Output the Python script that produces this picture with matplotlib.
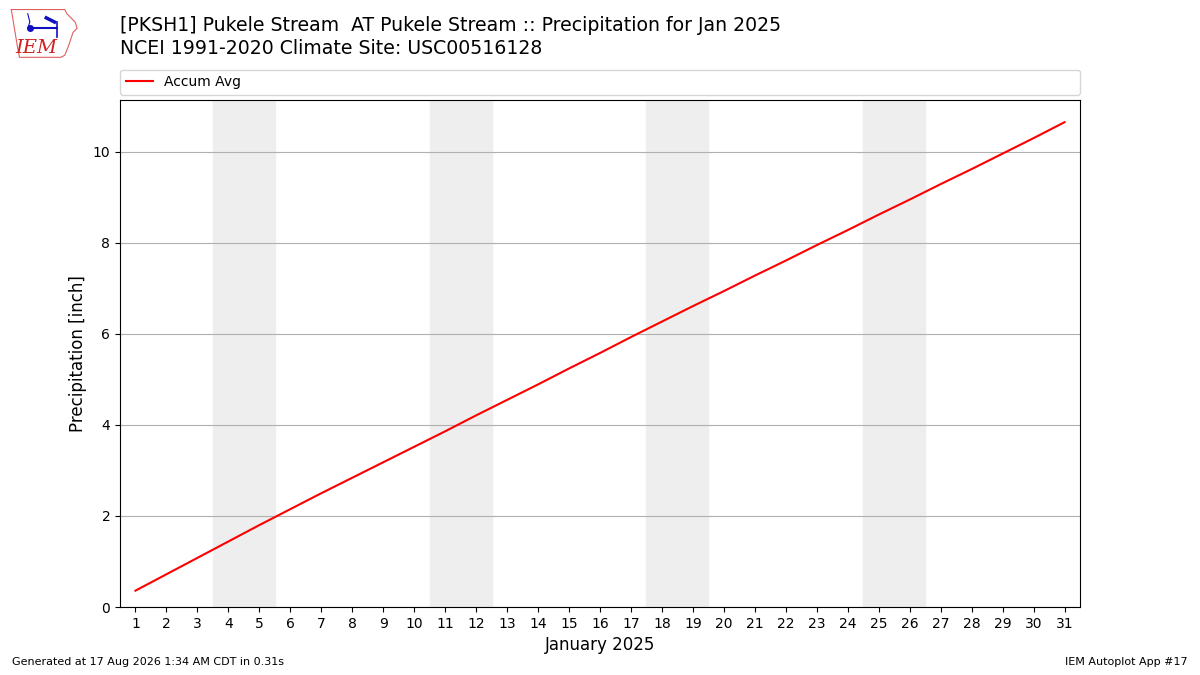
import matplotlib
matplotlib.use("Agg")
import matplotlib.pyplot as plt

days = list(range(1, 32))
accum_avg = [0.36, 0.72, 1.08, 1.44, 1.80, 2.15, 2.50, 2.84, 3.18, 3.52,
             3.86, 4.21, 4.55, 4.89, 5.24, 5.58, 5.93, 6.27, 6.61, 6.94,
             7.28, 7.61, 7.95, 8.28, 8.62, 8.95, 9.29, 9.62, 9.96, 10.30,
             10.65]
# weekends in January 2025 (Sat/Sun)
weekends = [(4, 5), (11, 12), (18, 19), (25, 26)]

fig = plt.figure(figsize=(12, 6.75), dpi=100)
ax = fig.add_axes([0.1, 0.1007, 0.8, 0.7513])

for sat, sun in weekends:
    ax.axvspan(sat - 0.5, sun + 0.5, color="#eeeeee", zorder=0)

ax.plot(days, accum_avg, color="red", lw=1.5, label="Accum Avg", zorder=3)

ax.set_xlim(0.5, 31.5)
ax.set_ylim(0, max(accum_avg) * 1.046)
ax.set_xticks(days)
ax.set_xticklabels([str(d) for d in days])
ax.set_yticks([0, 2, 4, 6, 8, 10])
ax.tick_params(labelsize=10)
ax.grid(axis="y", color="#b0b0b0", lw=0.8)
ax.set_axisbelow(True)
ax.set_xlabel("January 2025", fontsize=12)
ax.set_ylabel("Precipitation [inch]", fontsize=12)

ax.legend(loc="lower left", bbox_to_anchor=(0, 1.01, 1, 0.05), mode="expand",
          ncol=1, fontsize=10, borderaxespad=0, frameon=True)

fig.text(0.1, 0.962, "[PKSH1] Pukele Stream  AT Pukele Stream :: Precipitation for Jan 2025",
         fontsize=13.6, va="center")
fig.text(0.1, 0.928, "NCEI 1991-2020 Climate Site: USC00516128", fontsize=13.6, va="center")

fig.text(0.01, 0.015, "Generated at 17 Aug 2026 1:34 AM CDT in 0.31s", fontsize=8)
fig.text(0.99, 0.015, "IEM Autoplot App #17", fontsize=8, ha="right")

# rough IEM logo
logo = fig.add_axes([0.006, 0.912, 0.06, 0.08])
logo.set_xlim(0, 70)
logo.set_ylim(0, 52)
logo.axis("off")
outline_x = [4, 56, 58, 62, 66, 68, 64, 62, 60, 56, 52, 12, 10, 8, 6, 4]
outline_y = [48, 48, 44, 40, 36, 30, 26, 20, 14, 4, 2, 2, 12, 24, 36, 48]
logo.plot(outline_x, outline_y, color="#e06060", lw=0.8, clip_on=False)
logo.plot([22, 48], [30, 30], color="#1010c0", lw=1.5)
logo.plot([22], [30], "o", color="#1010c0", ms=4)
logo.plot([48, 48], [22, 36], color="#1010c0", lw=1.2)
logo.plot([38, 46], [40, 36], color="#1010c0", lw=2.5)
logo.plot([20, 22, 20], [44, 36, 30], color="#1010c0", lw=0.8)
logo.text(28, 11, "IEM", color="#d02020", fontsize=14, family="DejaVu Serif",
          style="italic", ha="center", va="center")

fig.savefig("out.png", dpi=100)
